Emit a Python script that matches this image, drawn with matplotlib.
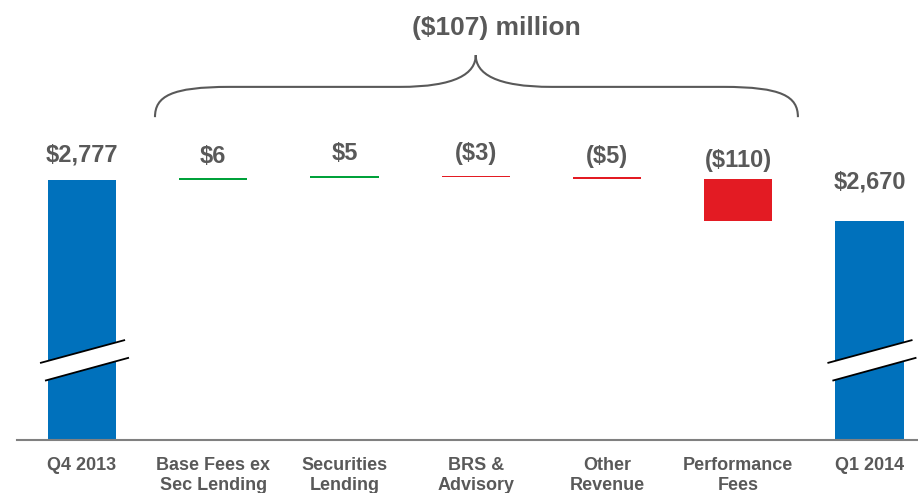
import matplotlib.pyplot as plt
from matplotlib.path import Path
from matplotlib.patches import PathPatch, Polygon

plt.rcParams['font.family'] = ['Liberation Sans', 'DejaVu Sans']

# data ($ millions)
categories = ["Q4 2013", "Base Fees ex\nSec Lending", "Securities\nLending",
              "BRS &\nAdvisory", "Other\nRevenue", "Performance\nFees", "Q1 2014"]
start_total = 2777
changes = [6, 5, -3, -5, -110]
end_total = 2670
value_labels = ["$2,777", "$6", "$5", "($3)", "($5)", "($110)", "$2,670"]
total_label = "($107) million"

# styles
BLUE = "#0071BC"
GREEN = "#00A13A"
RED = "#E31B23"
TEXT_GREY = "#595959"
AXIS_GREY = "#808080"
BAR_W = 0.52
Y_BASE = 2098.5          # value at the (broken) baseline
PX_PER_UNIT = 0.3832
label_gap_px = [18, 15, 16, 16, 14, 12, 33]

fig = plt.figure(figsize=(9.18, 4.93), dpi=100)
ax = fig.add_axes([0, 53 / 493, 1, 440 / 493])
ax.set_xlim(-0.625, 6.37)
ax.set_ylim(Y_BASE, Y_BASE + 440 / PX_PER_UNIT)
ax.axis('off')

# waterfall
tops = [start_total]
ax.bar(0, start_total - Y_BASE, bottom=Y_BASE, width=BAR_W, color=BLUE, zorder=2)
running = start_total
for i, ch in enumerate(changes, start=1):
    color = GREEN if ch > 0 else RED
    ax.bar(i, ch, bottom=running, width=BAR_W, color=color, zorder=2)
    running += ch
    tops.append(max(running, running - ch))
ax.bar(6, end_total - Y_BASE, bottom=Y_BASE, width=BAR_W, color=BLUE, zorder=2)
tops.append(end_total)

for i, (lab, top) in enumerate(zip(value_labels, tops)):
    ax.annotate(lab, xy=(i, top), xytext=(0, label_gap_px[i] * 0.72),
                textcoords='offset points', ha='center', va='baseline',
                fontsize=17, fontweight='bold', color=TEXT_GREY)

# category labels
for i, cat in enumerate(categories):
    ax.annotate(cat, xy=(i, Y_BASE), xytext=(0, -12), textcoords='offset points',
                ha='center', va='top', fontsize=13, fontweight='bold',
                color=TEXT_GREY, linespacing=1.27, annotation_clip=False)

# baseline
ax.plot([-0.495, 6.37], [Y_BASE, Y_BASE], color=AXIS_GREY, lw=1.5,
        clip_on=False, zorder=3)


# axis break marks on the total bars
def draw_break(xc):
    l1 = [(xc - 0.32, 2299.4), (xc + 0.328, 2359.5)]
    l2 = [(xc - 0.282, 2253.3), (xc + 0.358, 2313.3)]
    gap = Polygon([l1[0], l1[1], l2[1], l2[0]], closed=True,
                  facecolor='white', edgecolor='none', zorder=4)
    ax.add_patch(gap)
    for seg in (l1, l2):
        ax.plot([seg[0][0], seg[1][0]], [seg[0][1], seg[1][1]],
                color='black', lw=1.3, zorder=5, solid_capstyle='butt')


draw_break(0)
draw_break(6)

# brace over the changes
x0, x1, xm = 0.556, 5.455, 3.0
y_end, y_flat, y_peak = 2941, 3020, 3103
verts = [
    (x0, y_end), (x0, 2995), (x0 + 0.12, y_flat), (x0 + 0.57, y_flat),
    (xm - 0.58, y_flat),
    (xm - 0.15, y_flat), (xm, 3055), (xm, y_peak),
    (xm, 3055), (xm + 0.15, y_flat), (xm + 0.58, y_flat),
    (x1 - 0.57, y_flat),
    (x1 - 0.12, y_flat), (x1, 2995), (x1, y_end),
]
codes = [Path.MOVETO, Path.CURVE4, Path.CURVE4, Path.CURVE4,
         Path.LINETO,
         Path.CURVE4, Path.CURVE4, Path.CURVE4,
         Path.CURVE4, Path.CURVE4, Path.CURVE4,
         Path.LINETO,
         Path.CURVE4, Path.CURVE4, Path.CURVE4]
ax.add_patch(PathPatch(Path(verts, codes), facecolor='none',
                       edgecolor=TEXT_GREY, lw=1.5))

ax.text(3.16, 3173.6, total_label, ha='center', va='center',
        fontsize=19, fontweight='bold', color=TEXT_GREY)

fig.savefig("out.png", dpi=100)
